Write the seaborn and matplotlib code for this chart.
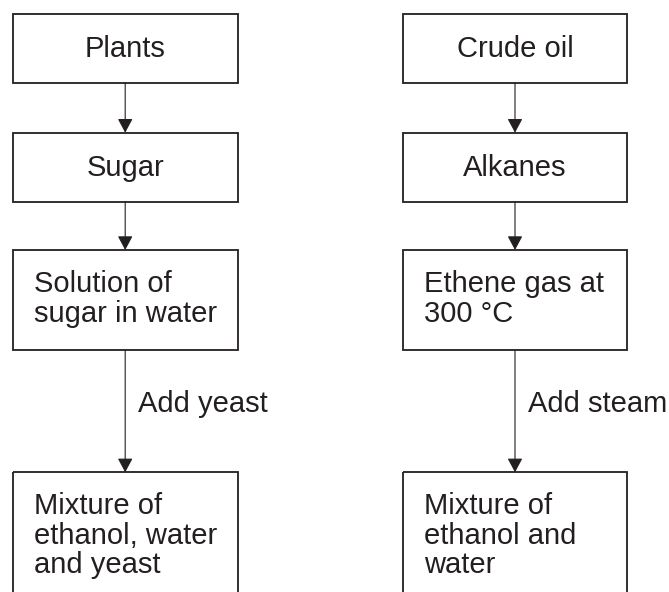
import matplotlib
matplotlib.use("Agg")
import matplotlib.pyplot as plt
import seaborn as sns
from matplotlib.patches import Rectangle

# Flow chart content
left_steps = ["Plants", "Sugar", "Solution of\nsugar in water", "Mixture of\nethanol, water\nand yeast"]
right_steps = ["Crude oil", "Alkanes", "Ethene gas at\n300 °C", "Mixture of\nethanol and\nwater"]
arrow_labels_left = ["", "", "Add yeast"]
arrow_labels_right = ["", "", "Add steam"]

# layout (pixels, y down)
box_top = [14, 132.7, 250, 472.3]
box_bottom = [82.7, 202, 350, 640]
columns = [(12.7, 237.7), (402.7, 627.3)]
ink = "#231f20"
fs = 21

sns.set_style("white")
plt.rcParams["font.family"] = ["Liberation Sans", "DejaVu Sans"]

fig = plt.figure(figsize=(6.69, 5.92), dpi=100)
ax = fig.add_axes([0, 0, 1, 1])
ax.set_xlim(0, 669)
ax.set_ylim(592, 0)
ax.axis("off")

for (x0, x1), steps, arrow_labels in zip(columns,
                                          [left_steps, right_steps],
                                          [arrow_labels_left, arrow_labels_right]):
    xm = (x0 + x1) / 2
    for i, label in enumerate(steps):
        top, bottom = box_top[i], box_bottom[i]
        ax.add_patch(Rectangle((x0, top), x1 - x0, bottom - top, fill=False,
                               edgecolor=ink, lw=1.3, clip_on=True))
        lines = label.split("\n")
        if len(lines) == 1:
            ax.text(xm, (top + bottom) / 2 + 8.5, label, ha="center", va="baseline",
                    fontsize=fs, color=ink)
        else:
            for j, line in enumerate(lines):
                ax.text(x0 + 21, top + 42 + j * 29.5, line, ha="left", va="baseline",
                        fontsize=fs, color=ink)

    for i, lab in enumerate(arrow_labels):
        y0, y1 = box_bottom[i], box_top[i + 1]
        ax.annotate("", xy=(xm, y1), xytext=(xm, y0),
                    arrowprops=dict(arrowstyle="-|>,head_length=0.43,head_width=0.23",
                                    mutation_scale=20, color=ink, lw=0.8,
                                    shrinkA=0, shrinkB=0))
        if lab:
            ax.text(xm + 13, (y0 + y1) / 2 + 1, lab, ha="left", va="baseline",
                    fontsize=fs, color=ink)

fig.savefig("out.png", dpi=100, facecolor="white")
